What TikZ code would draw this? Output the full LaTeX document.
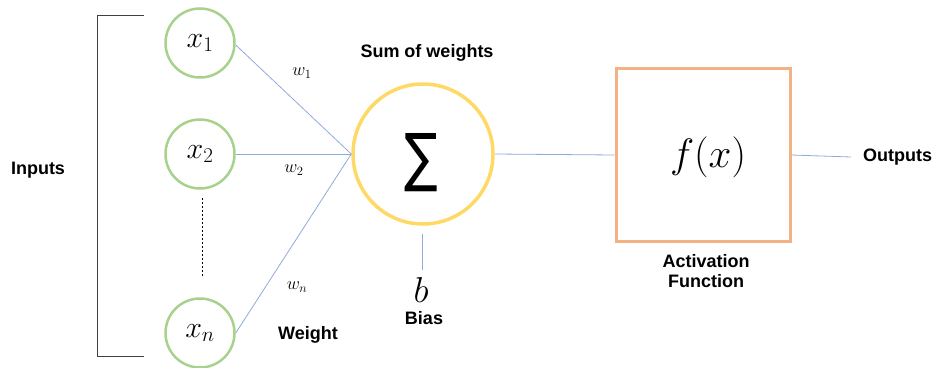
\RequirePackage{fix-cm}
\documentclass[tikz,border=0pt]{standalone}
\usepackage{fontspec}
\setsansfont{Liberation Sans}
\newfontfamily\symfont{DejaVu Sans}
\begin{document}
\begin{tikzpicture}[x=1pt,y=-1pt,
  inp/.style={circle,draw={rgb,255:red,169;green,209;blue,142},line width=2.5pt,minimum size=69pt,inner sep=0pt,font=\fontsize{30}{32}\selectfont},
  conn/.style={draw={rgb,255:red,143;green,170;blue,220},line width=0.8pt},
  lbl/.style={font=\sffamily\bfseries\fontsize{18}{20}\selectfont,inner sep=0pt,align=center},
  wlbl/.style={font=\fontsize{18}{20}\selectfont,inner sep=0pt}]
\useasboundingbox (0,0) rectangle (936,367);
% inputs
\node[inp] (x1) at (200,43) {$x_1$};
\node[inp] (x2) at (200,154) {$x_2$};
\node[inp] (xn) at (200,333) {$x_n$};
% bracket
\coordinate (bt) at (144,15);
\coordinate (bb) at (144,356);
\draw[line width=0.8pt,draw={rgb,255:red,64;green,64;blue,64}] (bt) -- (97,15) -- (97,356) -- (bb);
\node[lbl] (inputs) at (38,170) {Inputs};
% dashed dots
\coordinate (d1) at (202,198);
\coordinate (d2) at (202,277);
\draw[line width=0.6pt,dash pattern=on 2pt off 2pt] (d1) -- (d2);
% sum
\node[circle,draw={rgb,255:red,255;green,217;blue,102},line width=3.5pt,minimum size=140pt,inner sep=0pt] (sum) at (423,154) {};
\node[inner sep=0pt] (sig) at (421,163) {\scalebox{0.78}[1]{\symfont\fontsize{64}{66}\selectfont ∑}};
\node[lbl] (sumlbl) at (427,53) {Sum of weights};
% connectors from inputs
\draw[conn] (x1.east) ++(0,2) coordinate (x1e) -- (sum.west);
\draw[conn] (x2.east) -- (sum.west);
\draw[conn] (xn.east) -- (sum.west);
\node[wlbl] (w1) at (302,73) {$w_1$};
\node[wlbl] (w2) at (294,170) {$w_2$};
\node[wlbl] (wn) at (297,287) {$w_n$};
\node[lbl] (weight) at (308,335) {Weight};
% bias
\node[inner sep=0pt,font=\fontsize{36}{40}\selectfont] (b) at (421,290) {$b$};
\coordinate (bs) at (422,234);
\coordinate (be) at (422,270);
\draw[conn] (bs) -- (be);
\node[lbl] (bias) at (424,318) {Bias};
% activation box
\node[draw={rgb,255:red,244;green,177;blue,131},line width=3pt,minimum width=174pt,minimum height=173pt,inner sep=0pt] (act) at (703,155) {};
\node[inner sep=0pt,font=\fontsize{41}{44}\selectfont] (fx) at (708,157) {$f(x)$};
\node[lbl] (actlbl) at (706,271) {Activation\\[0pt]Function};
\draw[conn] (sum.east) -- (act.west);
% output
\node[lbl,anchor=west] (out) at (863,157) {Outputs};
\coordinate (oe) at (851,157);
\draw[conn] (act.east) -- (oe);
\end{tikzpicture}
\end{document}
